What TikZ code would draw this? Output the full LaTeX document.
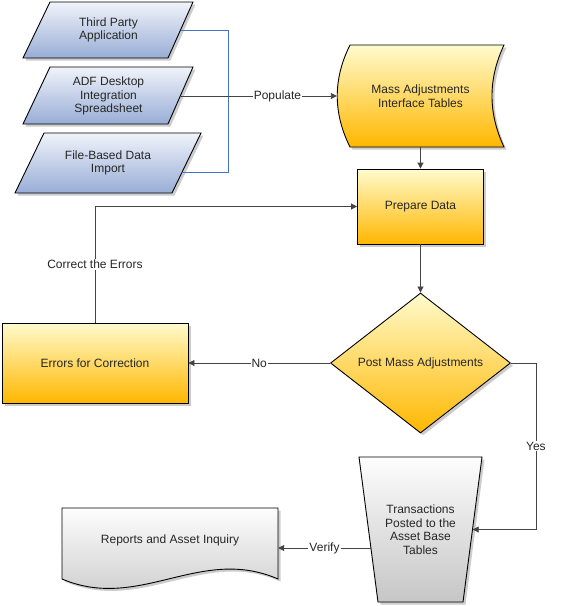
\documentclass[tikz,border=0pt]{standalone}
\usepackage{fontspec}
\setmainfont{Liberation Sans}
\usetikzlibrary{shapes.geometric,shadows,arrows.meta,calc}

\definecolor{ylwtop}{RGB}{255,251,205}
\definecolor{ylwbot}{RGB}{255,183,0}
\definecolor{blutop}{RGB}{240,243,250}
\definecolor{blubot}{RGB}{152,173,214}
\definecolor{grytop}{RGB}{253,253,253}
\definecolor{grybot}{RGB}{198,198,198}
\definecolor{linegray}{RGB}{68,68,68}
\definecolor{linkblue}{RGB}{70,116,196}

\tikzset{
  every node/.style={font=\fontsize{12}{13.5}\selectfont, text=black!85, align=center, inner sep=0pt},
  shadowed/.style={drop shadow={shadow xshift=2.5pt, shadow yshift=-2.5pt, fill=black!20, opacity=1}},
  yellowbox/.style={shadowed, draw=black, line width=0.9pt, top color=ylwtop, bottom color=ylwbot},
  bluebox/.style={shadowed, draw=black, line width=0.9pt, top color=blutop, bottom color=blubot},
  graybox/.style={shadowed, draw=black, line width=0.9pt, top color=grytop, bottom color=grybot},
  flow/.style={draw=linegray, line width=0.9pt, ->},
  link/.style={draw=linkblue, line width=0.9pt},
  lbl/.style={fill=white, inner sep=1pt}
}

\begin{document}
\begin{tikzpicture}[x=1pt, y=-1pt, >={Triangle[length=6pt,width=6pt]}]
\useasboundingbox (0, 0) rectangle (565, 606);
% data sources
\path [bluebox] (50, 2) -- (193, 2) -- (168, 58) -- (23, 58) -- cycle;
\path [bluebox] (50, 67) -- (193, 67) -- (168, 124) -- (23, 124) -- cycle;
\path [bluebox] (44, 133) -- (201, 133) -- (172, 193) -- (15, 193) -- cycle;
\node (third) at (108.5, 30) [minimum width=144, minimum height=56] {Third Party\\Application};
\node (adf) at (108.5, 96) [minimum width=144, minimum height=57] {ADF Desktop\\Integration\\Spreadsheet};
\node (file) at (108, 163) [minimum width=157, minimum height=60] {File-Based Data\\Import};
% interface tables
\path [yellowbox] (350, 45) -- (504, 45) .. controls (488, 79) and (488, 113) .. (504, 147) -- (350, 147) .. controls (333, 113) and (333, 79) .. (350, 45) -- cycle;
\node (mass) at (420.5, 96) [minimum width=167, minimum height=102] {Mass Adjustments\\Interface Tables};
\node (prep) at (420.5, 206.5) [yellowbox, minimum width=126, minimum height=75] {Prepare Data};
\node (post) at (420.5, 363) [yellowbox, diamond, aspect=1.286, minimum width=180, minimum height=140] {Post Mass Adjustments};
\node (err) at (95, 363) [yellowbox, minimum width=186, minimum height=80] {Errors for Correction};
% posted transactions
\path [graybox] (359, 457) -- (482, 457) -- (463, 602) -- (378, 602) -- cycle;
\node (trans) at (420.5, 529.5) [minimum width=104, minimum height=145] {Transactions\\Posted to the\\Asset Base\\Tables};
% report document
\path [graybox] (62, 508) -- (278, 508) -- (278, 579) .. controls (200, 545) and (140, 612) .. (62, 579) -- cycle;
\node (report) at (170, 540) [minimum width=216, minimum height=64] {Reports and Asset Inquiry};
% connectors
\draw [link] (third.east) -- ++(47.5, 0) |- ($(file.east)+(-4.5, 9.5)$);
\draw [flow] (adf) -- node[lbl, pos=0.62] {Populate} (mass);
\draw [flow] (mass) -- (prep);
\draw [flow] (prep) -- (post);
\draw [flow] (post) -- node[lbl] {No} (err);
\draw [flow] (err) |- node[lbl, pos=0.25] {Correct the Errors} (prep);
\draw [flow] (post.east) -- ++(25, 0) |- node[lbl, pos=0.25] {Yes} (trans.east);
\draw [flow] ($(trans.west)+(2.5, 18.5)$) -- node[lbl] {Verify} ($(report.east)+(0, 8)$);
\end{tikzpicture}
\end{document}
